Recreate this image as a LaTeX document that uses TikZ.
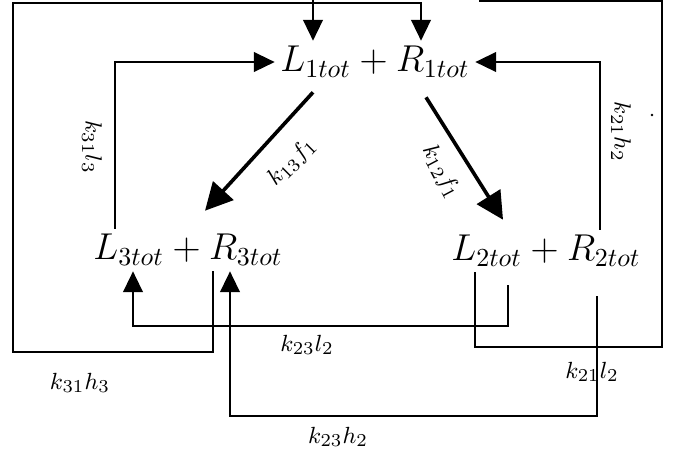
\documentclass[tikz,border=0pt]{standalone}
\usetikzlibrary{arrows.meta}

\begin{document}
\begin{tikzpicture}[
    x=0.385pt, y=-0.385pt,
    species/.style={font=\fontsize{13.7}{16}\selectfont, inner sep=2pt, anchor=base},
    rate/.style={font=\fontsize{9.4}{11}\selectfont, inner sep=1pt},
    flow/.style={line width=0.9pt, -{Triangle[length=8pt, width=7.5pt]}},
    bigflow/.style={line width=1.4pt, -{Triangle[length=10.5pt, width=10.5pt]}},
]
\useasboundingbox (0,0) rectangle (673,454);

% Compartments
\node[species] (S1) at (375,72) {$L_{1tot} + R_{1tot}$};
\node[species] (S3) at (188,260) {$L_{3tot} + R_{3tot}$};
\node[species] (S2) at (546,261) {$L_{2tot} + R_{2tot}$};

% From 1
\draw[bigflow] ([shift={(-62,9)}]S1.south) -- ([shift={(17,-18)}]S3.north);
\draw[bigflow] ([shift={(51,14)}]S1.south) -- ([shift={(-43,-10)}]S2.north);

% Back to 1
\draw[flow] (115,0 |- S3.north) |- (S1.west);
\draw[flow] (600,0 |- S2.north) |- (S1.east);
\draw[flow] (213,0 |- S3.south) |- (13,352) |- (421,3) -- (421,0 |- S1.north);
\draw[flow] (475,0 |- S2.south) |- (662,347) |- (480,1) -- (480,-10)
    -| (313,0 |- S1.north);

% From 2 to 3
\draw[flow] ([shift={(-38,13)}]S2.south) -- (508,326) -| (133,0 |- S3.south);
\draw[flow] ([shift={(51,24)}]S2.south) -- (597,416) -| (230,0 |- S3.south);

% Rates
\node[rate, rotate=-90] (r31l) at (92,147) {$k_{31}l_3$};
\node[rate, rotate=-90] (r21h) at (621,132) {$k_{21}h_2$};
\node[rate, rotate=45] (r13) at (292,162) {$k_{13}f_1$};
\node[rate, rotate=-62] (r12) at (441,172) {$k_{12}f_1$};
\node[rate] (r23l) at (307,345) {$k_{23}l_2$};
\node[rate] (r31h) at (80,383) {$k_{31}h_3$};
\node[rate] (r21l) at (592,372) {$k_{21}l_2$};
\node[rate] (r23h) at (338,437) {$k_{23}h_2$};
\fill (652,115) circle (0.5pt);

\end{tikzpicture}
\end{document}
